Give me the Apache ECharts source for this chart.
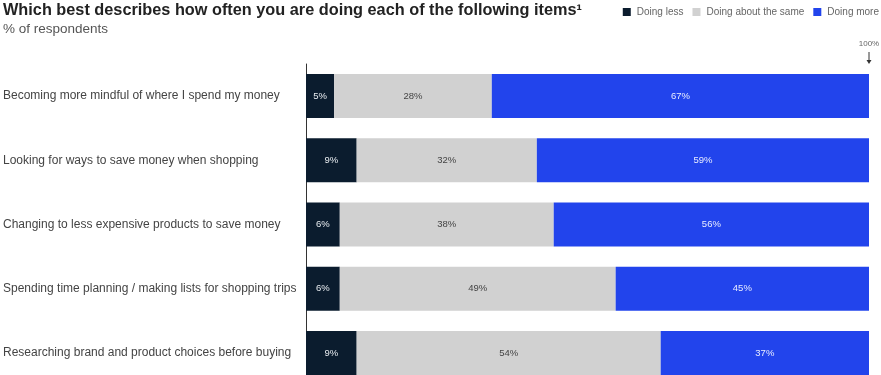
<!DOCTYPE html>
<html><head><meta charset="utf-8">
<script src="https://cdn.jsdelivr.net/npm/echarts@6/dist/echarts.min.js"></script>
<style>html,body{margin:0;padding:0;background:#fff}#c{width:881px;height:375px}</style>
</head><body><div id="c"></div>
<script>
const categories = [
  'Becoming more mindful of where I spend my money',
  'Looking for ways to save money when shopping',
  'Changing to less expensive products to save money',
  'Spending time planning / making lists for shopping trips',
  'Researching brand and product choices before buying'
];
const doingLess = [5, 9, 6, 6, 9];
const doingSame = [28, 32, 38, 49, 54];
const doingMore = [67, 59, 56, 45, 37];
const seriesNames = ['Doing less', 'Doing about the same', 'Doing more'];
const colors = ['#0b1c2e', '#d1d1d1', '#2244ec'];
const labelColors = ['#e8ecf0', '#444444', '#e8ecff'];

const chart = echarts.init(document.getElementById('c'));
const font = 'Liberation Sans, Arial, sans-serif';
const mk = (name, data, i) => ({
  name, type: 'bar', stack: 'a', data, barWidth: 44,
  itemStyle: { color: colors[i] },
  label: { show: true, position: 'inside', formatter: '{c}%', color: labelColors[i], fontSize: 9.5, fontFamily: font },
  emphasis: { disabled: true }
});
chart.setOption({
  animation: false,
  textStyle: { fontFamily: font },
  title: [
    { text: 'Which best describes how often you are doing each of the following items¹', left: 3, top: 3, padding: 0,
      textStyle: { fontSize: 16.3, fontWeight: 'bold', color: '#222', fontFamily: font } },
    { text: '% of respondents', left: 3, top: 22, padding: 0, textStyle: { fontSize: 13.5, fontWeight: 'normal', color: '#555', fontFamily: font } }
  ],
  legend: {
    right: 2, top: 7, padding: 0, itemWidth: 8, itemHeight: 8, itemGap: 9,
    icon: 'rect', data: seriesNames,
    textStyle: { fontSize: 10, color: '#666', fontFamily: font, padding: [0, 0, 0, 1] }
  },
  grid: { left: 306, right: 12, top: 64, height: 321, outerBoundsMode: 'none', containLabel: false },
  xAxis: [
    { type: 'value', min: 0, max: 100, show: false },
    { type: 'value', min: 0, max: 100, position: 'top', interval: 100,
      axisLine: { show: false }, axisTick: { show: false }, splitLine: { show: false },
      axisLabel: { margin: 16, fontSize: 8, color: '#666', formatter: v => v === 100 ? '100%' : '' } }
  ],
  yAxis: {
    type: 'category', data: categories, inverse: true,
    axisLine: { show: true, lineStyle: { color: '#333', width: 1 } },
    axisTick: { show: false },
    axisLabel: { align: 'left', margin: 303, fontSize: 12, color: '#444', fontFamily: font }
  },
  series: [mk(seriesNames[0], doingLess, 0), mk(seriesNames[1], doingSame, 1), mk(seriesNames[2], doingMore, 2)]
});
const c0 = chart.convertToPixel({ gridIndex: 0 }, [100, 0]);
const c1 = chart.convertToPixel({ gridIndex: 0 }, [100, 1]);
const gridTop = c0[1] - (c1[1] - c0[1]) / 2;
chart.setOption({
  graphic: [
    { type: 'line', shape: { x1: c0[0], y1: gridTop - 12, x2: c0[0], y2: gridTop - 3 }, style: { stroke: '#333', lineWidth: 1 } },
    { type: 'polygon', shape: { points: [[c0[0] - 2.5, gridTop - 4], [c0[0] + 2.5, gridTop - 4], [c0[0], gridTop]] }, style: { fill: '#333' } }
  ]
});
</script></body></html>
